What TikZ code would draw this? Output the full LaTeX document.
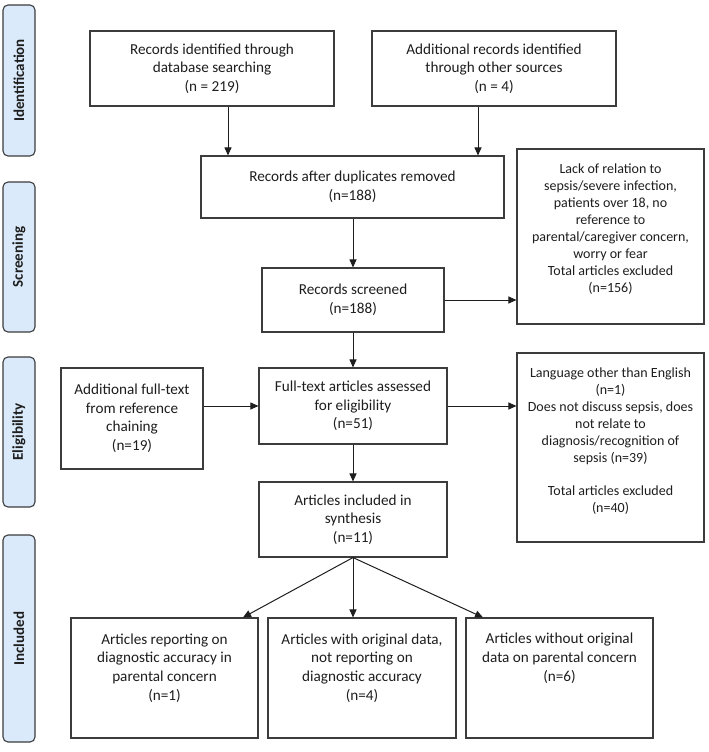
\documentclass[tikz,border=0pt]{standalone}
\usepackage{fontspec}
\setmainfont{Carlito}
\usetikzlibrary{arrows.meta}
\definecolor{sidefill}{RGB}{218,234,250}
\definecolor{edge}{RGB}{60,60,60}
\definecolor{ink}{RGB}{30,30,30}
\begin{document}
\begin{tikzpicture}[x=1pt,y=-1pt,
  box/.style={draw=edge, line width=1.1pt, fill=white, inner sep=0pt, text=ink, align=center,
              font=\fontsize{15.2}{18.5}\selectfont},
  txt/.style={inner sep=0pt, text=ink, align=center, font=\fontsize{14}{17}\selectfont},
  side/.style={draw=edge, line width=1.1pt, fill=sidefill, rounded corners=5pt, minimum width=32pt,
               inner sep=0pt},
  sidetxt/.style={rotate=90, text=ink, font=\fontsize{15}{18}\selectfont\bfseries, inner sep=0pt},
  arr/.style={draw=ink, line width=1pt, -{Triangle[length=8pt,width=7pt]}}]
\useasboundingbox (0,0) rectangle (709,752);
% sidebars
\node[side, minimum height=151pt] (s1) at (19,80.5) {};
\node[sidetxt] (s1t) at (s1.center) {Identification};
\node[side, minimum height=150pt] (s2) at (19,257) {};
\node[sidetxt] (s2t) at (s2.center) {Screening};
\node[side, minimum height=150pt] (s3) at (19,432) {};
\node[sidetxt] (s3t) at (s3.center) {Eligibility};
\node[side, minimum height=207pt] (s4) at (19,638.5) {};
\node[sidetxt] (s4t) at (s4.center) {Included};
% boxes
\node[box, minimum width=244pt, minimum height=75pt] (b1) at (212,68.5)
  {Records identified through\\database searching\\(n = 219)};
\node[box, minimum width=244pt, minimum height=75pt] (b2) at (494,68.5)
  {Additional records identified\\through other sources\\(n = 4)};
\node[box, minimum width=303pt, minimum height=62pt] (b3) at (352.5,187)
  {Records after duplicates removed\\(n=188)};
\node[box, minimum width=182pt, minimum height=64pt] (b4) at (353,300)
  {Records screened\\(n=188)};
\node[box, minimum width=187pt, minimum height=175pt] (ex1) at (610.5,236.5) {};
\node[txt] (ex1t) at (610.5,229)
  {Lack of relation to\\sepsis/severe infection,\\patients over 18, no\\reference to\\parental/caregiver concern,\\worry or fear\\Total articles excluded\\(n=156)};
\node[box, minimum width=142pt, minimum height=101pt] (lf) at (132,418.5)
  {Additional full-text\\from reference\\chaining\\(n=19)};
\node[box, minimum width=188pt, minimum height=76pt] (b5) at (353,406)
  {Full-text articles assessed\\for eligibility\\(n=51)};
\node[box, minimum width=187pt, minimum height=189pt] (ex2) at (610.5,447.5) {};
\node[txt] (ex2t) at (610.5,441)
  {Language other than English\\(n=1)\\Does not discuss sepsis, does\\not relate to\\diagnosis/recognition of\\sepsis (n=39)\\[16pt]Total articles excluded\\(n=40)};
\node[box, minimum width=188pt, minimum height=75pt] (b6) at (353,519.5)
  {Articles included in\\synthesis\\(n=11)};
\node[box, minimum width=187pt, minimum height=120pt] (c1) at (164.5,678) {};
\node[txt, font=\fontsize{15.2}{18.8}\selectfont] (c1t) at (164.5,668)
  {Articles reporting on\\diagnostic accuracy in\\parental concern\\(n=1)};
\node[box, minimum width=188pt, minimum height=120pt] (c2) at (362,678) {};
\node[txt, font=\fontsize{15.2}{18.8}\selectfont] (c2t) at (362,668)
  {Articles with original data,\\not reporting on\\diagnostic accuracy\\(n=4)};
\node[box, minimum width=187pt, minimum height=120pt] (c3) at (559.5,678) {};
\node[txt, font=\fontsize{15.2}{18.8}\selectfont] (c3t) at (559.5,658.5)
  {Articles without original\\data on parental concern\\(n=6)};
% helper x positions
\coordinate (xa) at (228,0);
\coordinate (xb) at (478,0);
\coordinate (xm) at (353,0);
\coordinate (xc1) at (243,0);
\coordinate (xc3) at (483,0);
% connectors
\draw[arr] (b1.south -| xa) -- (b3.north -| xa);
\draw[arr] (b2.south -| xb) -- (b3.north -| xb);
\draw[arr] (b3.south -| xm) -- (b4.north -| xm);
\draw[arr] (b4.east) -- (ex1.west |- b4.east);
\draw[arr] (b4.south -| xm) -- (b5.north -| xm);
\draw[arr] (lf.east |- b5.west) -- (b5.west);
\draw[arr] (b5.east) -- (ex2.west |- b5.east);
\draw[arr] (b5.south -| xm) -- (b6.north -| xm);
\draw[arr] (b6.south -| xm) -- (c1.north -| xc1);
\draw[arr] (b6.south -| xm) -- (c2.north -| xm);
\draw[arr] (b6.south -| xm) -- (c3.north -| xc3);
\end{tikzpicture}
\end{document}
